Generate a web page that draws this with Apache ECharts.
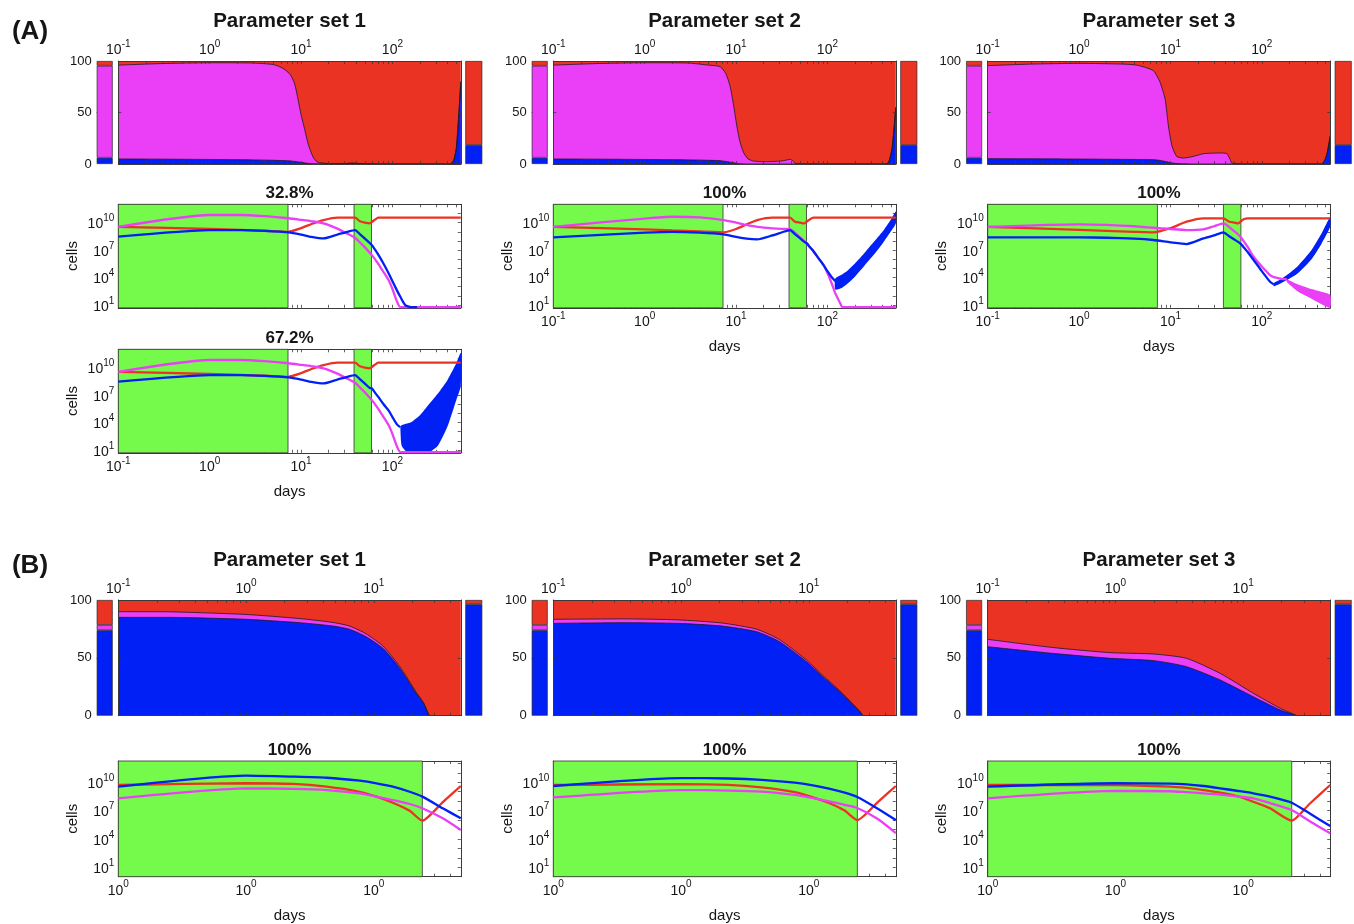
<!DOCTYPE html>
<html>
<head>
<meta charset="utf-8">
<script src="https://cdn.jsdelivr.net/npm/echarts@6/dist/echarts.min.js"></script>
<style>
  html, body { margin: 0; padding: 0; background: #fff; }
  #chart { width: 1354px; height: 924px; }
</style>
</head>
<body>
<div id="chart"></div>
<script>
// ---------------------------------------------------------------
// Tumour composition and cell counts under treatment, two regimes
// (A, B) and three parameter sets each.
// ---------------------------------------------------------------

// ---- texts ----
const panelLetters = ['(A)', '(B)'];
const setTitles = ['Parameter set 1', 'Parameter set 2', 'Parameter set 3'];
const aShares = [['32.8%', '67.2%'], ['100%'], ['100%']];
const bShares = ['100%', '100%', '100%'];

// ---- tick labels (exponents of 10) ----
const aDayTickExps = [-1, 0, 1, 2];
const bDayTickExps = [-1, 0, 1];
const bLineDayTickText = ['0', '0', '0'];
const cellTickExps = [1, 4, 7, 10];
const pctTicks = [0, 50, 100];

// ---- treatment windows (days) ----
const aTreatDays = [[0.1, 7.2], [38, 59]];
const bTreatDays = [[0.1, 24]];

// ---- time spans (days) ----
const aDayMax = 560;
const bDayMax = 48;

// ---- initial / final composition, % [blue, magenta, red] ----
const aStartMix = [6.1, 89.3, 4.6];
const aEndMix = [[18.4, 0, 81.6], [18.4, 0, 81.6], [18.4, 0, 81.6]];
const bStartMix = [74, 4.4, 21.6];
const bEndMix = [[96.5, 0, 3.5], [96.5, 0, 3.5], [96.5, 0, 3.5]];

// ---- Panel A: composition over time (%) ----
const aMixDays1 = [0.1, 0.3, 1, 3, 5, 6.3, 7.6, 8.5, 9.3, 10, 11, 12, 13.5, 15, 20, 30, 36, 42, 60, 100, 300, 430, 470, 500, 530, 560];
const aMixBlue1 = [4.9, 4.7, 4.4, 4.0, 3.6, 3.3, 3.0, 2.5, 2.0, 1.6, 1.0, 0.6, 0.3, 0.2, 0.1, 0.3, 0.8, 0.5, 0.1, 0, 0, 0, 4, 15, 45, 80];
const aMixMag1 = [91.1, 92.8, 93.9, 94.0, 92.9, 89.7, 84.0, 75.5, 60.0, 46.4, 32.0, 18.4, 6.7, 1.8, 0.3, 0, 0, 0, 0, 0, 0, 0, 0, 0, 0, 0];
const aMixRed1 = [4.0, 2.5, 1.7, 2.0, 3.5, 7.0, 13.0, 22.0, 38.0, 52.0, 67.0, 81.0, 93.0, 98.0, 99.6, 99.7, 99.2, 99.5, 99.9, 100, 100, 100, 96, 85, 55, 20];

const aMixDays2 = [0.1, 0.3, 1, 3, 5, 6.7, 7.7, 8.6, 9.4, 10.2, 11, 12.1, 13.5, 15.5, 20, 28, 33, 39, 42, 44.5, 60, 100, 300, 440, 470, 510, 560];
const aMixBlue2 = [4.9, 4.7, 4.4, 4.0, 3.6, 3.2, 2.5, 1.8, 1.2, 0.6, 0.3, 0.1, 0, 0, 0, 0, 0, 0, 0, 0, 0, 0, 0, 0, 2, 15, 55];
const aMixMag2 = [91.1, 92.8, 93.9, 94.0, 92.4, 91.3, 85.5, 73.9, 55.8, 36.3, 21.7, 10.9, 5.0, 2.9, 2.2, 2.6, 3.2, 4.5, 3.0, 0.6, 0, 0, 0, 0, 0, 0, 0];
const aMixRed2 = [4.0, 2.5, 1.7, 2.0, 4.0, 5.5, 12.0, 24.3, 43.0, 63.1, 78.0, 89.0, 95.0, 97.1, 97.8, 97.4, 96.8, 95.5, 97.0, 99.4, 100, 100, 100, 100, 98, 85, 45];

const aMixDays3 = [0.1, 0.3, 1, 3, 4.3, 6.5, 7.7, 8.75, 9.5, 10.4, 11.7, 13.9, 17.8, 23, 35, 41.5, 45, 47, 60, 100, 300, 450, 490, 520, 560];
const aMixBlue3 = [5.2, 5.0, 4.8, 4.5, 4.4, 4.2, 3.5, 2.5, 1.8, 1.0, 0.5, 0.2, 0, 0, 0, 0, 0, 0, 0, 0, 0, 0, 4, 11, 27];
const aMixMag3 = [90.3, 92.0, 92.9, 92.5, 91.6, 86.4, 75.8, 60.3, 35.1, 16.5, 6.9, 5.6, 7.4, 10.0, 10.7, 10.0, 4.2, 1.0, 0, 0, 0, 0, 0, 0, 0];
const aMixRed3 = [4.5, 3.0, 2.3, 3.0, 4.0, 9.4, 20.7, 37.2, 63.1, 82.5, 92.6, 94.2, 92.6, 90.0, 89.3, 90.0, 95.8, 99.0, 100, 100, 100, 100, 96, 89, 73];

// ---- Panel B: composition over time (%) ----
const bMixDays1 = [0.1, 0.24, 1, 2.6, 4.8, 6.5, 8.7, 11.8, 16, 21.5, 24.5, 25.9, 27.5, 35.5, 48];
const bMixBlue1 = [85, 85, 83.3, 80.4, 77.5, 74.6, 68.3, 58.2, 40.9, 19.3, 10.7, 4.9, 0, 0, 0];
const bMixMag1 = [4.9, 4.8, 4.2, 3.6, 3.1, 2.8, 2.5, 2.0, 1.5, 1.0, 0.7, 0.5, 0, 0, 0];
const bMixRed1 = [10.1, 10.2, 12.5, 16.0, 19.4, 22.6, 29.2, 39.8, 57.6, 79.7, 88.6, 94.6, 100, 100, 100];

const bMixDays2 = [0.1, 0.35, 0.95, 2.1, 3.9, 5.9, 9.6, 12.9, 17.5, 22.3, 25.1, 26.7, 35.5, 48];
const bMixBlue2 = [79.8, 80.4, 79.8, 77.5, 72.6, 64.0, 46.7, 33.7, 20.8, 9.3, 3.5, 0, 0, 0];
const bMixMag2 = [3.5, 3.3, 3.0, 2.6, 2.2, 1.8, 1.4, 1.1, 0.8, 0.5, 0.3, 0, 0, 0];
const bMixRed2 = [16.7, 16.3, 17.2, 19.9, 25.2, 34.2, 51.9, 65.2, 78.4, 90.2, 96.2, 100, 100, 100];

const bMixDays3 = [0.1, 0.32, 0.91, 2.0, 3.6, 6.6, 12, 19.5, 25.4, 26.3, 35.5, 48];
const bMixBlue3 = [59.6, 53.9, 49.6, 47.6, 42.4, 30.9, 16.4, 4.9, 0.6, 0, 0, 0];
const bMixMag3 = [6.4, 5.1, 4.9, 5.7, 7.2, 5.7, 3.0, 1.5, 0.2, 0, 0, 0];
const bMixRed3 = [34.0, 41.0, 45.5, 46.7, 50.4, 63.4, 80.6, 93.6, 99.2, 100, 100, 100];

// ---- Panel A: cell counts ----
const a1Days = [0.1, 1, 2.2, 4, 7.3, 10, 13, 17.6, 25, 32, 39, 44, 50, 56, 60, 64, 70, 80, 91, 100, 112, 122, 138, 160, 186, 250, 350, 450, 560];
const a1Red = [3.5e9, 2.0e9, 1.6e9, 1.3e9, 1.0e9, 2.5e9, 7.1e9, 1.9e10, 3.5e10, 3.5e10, 3.5e10, 1.4e10, 1.0e10, 8.3e9, 1.26e10, 2.0e10, 3.5e10,
  3.5e10, 3.5e10, 3.5e10, 3.5e10, 3.5e10, 3.5e10, 3.5e10, 3.5e10, 3.5e10, 3.5e10, 3.5e10, 3.5e10];
const a1Mag = [3.5e9, 6.8e10, 6.8e10, 5.0e10, 3.0e10, 2.0e10, 1.4e10, 8.3e9, 2.2e9, 6.3e8, 2.2e8, 7.1e7, 2.0e7, 5.6e6, 2.6e6, 1.1e6, 3.2e5, 4.0e4, 5.0e3, 560, 25,
  6, 6, 6, 6, 6, 6, 6, 6];
const a1Blue = [2.9e8, 1.55e9, 1.55e9, 1.26e9, 8.7e8, 5.0e8, 2.8e8, 1.9e8, 5.0e8, 1.0e9, 1.55e9, 5.6e8, 1.78e8, 6.3e7, 3.2e7, 1.26e7, 3.2e6, 3.2e5, 2.8e4, 4.0e3, 400, 80, 10, 6, 6,
  null, null, null, null];
// second outcome group of parameter set 1 (regrowing blue cells)
const a1bBlue = [2.9e8, 1.55e9, 1.55e9, 1.26e9, 8.7e8, 5.0e8, 2.8e8, 1.9e8, 5.0e8, 1.0e9, 1.55e9, 5.6e8, 1.78e8, 6.3e7, 5.0e7, 2.0e7, 6.3e6, 1.0e6, 2.0e5, 4.0e4, 6.3e3, 3.2e3,
  null, null, null, null, null, null, null];
const a1bBandDays = [122, 126, 145, 158, 200, 251, 316, 398, 501, 560];
const a1bBandLo = [3.2e3, 32, 5.6, 5.2, 5.2, 5.6, 32, 3.2e3, 3.2e6, 1.0e8];
const a1bBandHi = [3.2e3, 5.0e3, 7.9e3, 1.0e4, 6.3e4, 1.0e6, 1.6e7, 4.0e8, 3.2e10, 4.0e11];

const a2Days = [0.1, 1, 2, 4, 7.3, 10, 13, 17, 25, 32, 39, 44, 50, 56, 60, 64, 70, 80, 91, 100, 112, 122, 138, 145, 160, 250, 350, 450, 560];
const a2Red = [3.5e9, 1.8e9, 1.4e9, 1.1e9, 8.7e8, 2.0e9, 6.3e9, 1.9e10, 3.5e10, 3.5e10, 3.5e10, 1.26e10, 1.0e10, 8.3e9, 1.4e10, 2.2e10, 3.5e10,
  3.5e10, 3.5e10, 3.5e10, 3.5e10, 3.5e10, 3.5e10, 3.5e10, 3.5e10, 3.5e10, 3.5e10, 3.5e10, 3.5e10];
const a2Mag = [3.5e9, 2.8e10, 4.4e10, 3.8e10, 1.9e10, 1.0e10, 5.6e9, 3.5e9, 2.4e9, 2.1e9, 2.0e9, 7.9e8, 2.5e8, 8.9e7, 5.0e7, 2.2e7, 7.9e6, 1.26e6, 2.2e5, 3.2e4, 2.0e3, 190, 16,
  6, 6, 6, 6, 6, 6];
const a2Blue = [2.45e8, 7.9e8, 1.0e9, 7.9e8, 5.2e8, 2.8e8, 1.78e8, 1.48e8, 4.0e8, 8.9e8, 1.55e9, 5.6e8, 2.0e8, 7.9e7, 5.0e7, 2.2e7, 7.9e6, 1.26e6, 2.2e5, 5.0e4, 1.0e4, 4.0e3,
  null, null, null, null, null, null, null];
const a2BandDays = [122, 145, 160, 200, 250, 316, 400, 500, 560];
const a2BandLo = [500, 790, 1.6e3, 1.26e4, 1.6e5, 2.5e6, 5.0e7, 1.26e9, 7.9e9];
const a2BandHi = [7.9e3, 2.2e4, 4.2e4, 3.5e5, 4.0e6, 6.3e7, 1.0e9, 2.5e10, 1.6e11];

const a3Days = [0.1, 1, 2, 4, 6.5, 10, 15, 23, 30, 38, 44, 50, 55, 60, 64, 70, 81, 100, 123, 135, 160, 188, 250, 350, 450, 560];
const a3Red = [3.5e9, 1.6e9, 1.26e9, 1.0e9, 8.7e8, 2.5e9, 1.26e10, 2.95e10, 2.95e10, 2.95e10, 1.26e10, 1.0e10, 8.3e9, 1.6e10, 2.5e10, 2.95e10,
  2.95e10, 2.95e10, 2.95e10, 2.95e10, 2.95e10, 2.95e10, 2.95e10, 2.95e10, 2.95e10, 2.95e10];
const a3Mag = [3.5e9, 6.5e9, 5.6e9, 4.0e9, 2.75e9, 2.0e9, 1.55e9, 1.86e9, 4.0e9, 8.3e9, 3.2e9, 1.12e9, 5.0e8, 2.0e8, 7.9e7, 2.2e7, 2.0e6, 1.6e5, 1.86e4, 1.12e4, 7.9e3, 6.3e3,
  null, null, null, null];
const a3Blue = [2.45e8, 2.45e8, 2.24e8, 1.78e8, 1.26e8, 7.1e7, 4.6e7, 1.9e8, 4.0e8, 8.7e8, 3.2e8, 1.41e8, 7.9e7, 4.0e7, 1.78e7, 6.3e6, 8.9e5, 5.0e4, 3.5e3, 1.8e3,
  null, null, null, null, null, null];
const a3BlueBandDays = [135, 160, 188, 250, 350, 450, 560];
const a3BlueBandLo = [1.12e3, 2.24e3, 5.4e3, 3.2e4, 1.0e6, 5.0e7, 3.5e9];
const a3BlueBandHi = [2.5e3, 6.3e3, 1.86e4, 2.0e5, 1.0e7, 6.3e8, 4.0e10];
const a3MagBandDays = [188, 250, 350, 450, 560];
const a3MagBandLo = [3.2e3, 280, 50, 12.6, 5.2];
const a3MagBandHi = [6.3e3, 1.78e3, 560, 280, 126];

// ---- Panel B: cell counts ----
const b1Days = [0.1, 1, 2.34, 4.27, 7.76, 10.5, 14.1, 19.1, 24, 34.7, 48];
const b1Red = [5.1e9, 7.8e9, 6.6e9, 3.4e9, 9.8e8, 3.0e8, 6.8e7, 9.5e6, 8.5e5, 7.9e7, 4.0e9];
const b1Mag = [2.0e8, 2.3e9, 2.0e9, 1.5e9, 6.8e8, 3.0e8, 1.3e8, 5.0e7, 1.74e7, 1.5e6, 8.7e4];
const b1Blue = [3.4e9, 5.0e10, 3.9e10, 3.0e10, 1.45e10, 7.8e9, 3.4e9, 9.8e8, 3.0e8, 1.74e7, 1.5e6];

const b2Days = [0.1, 1, 2.34, 4.27, 7.76, 10.5, 14.1, 19.1, 24, 34.7, 48];
const b2Red = [5.1e9, 6.3e9, 5.2e9, 2.8e9, 8.9e8, 2.8e8, 7.1e7, 1.0e7, 1.0e6, 7.9e7, 4.0e9];
const b2Mag = [2.5e8, 1.5e9, 1.32e9, 1.0e9, 4.5e8, 2.24e8, 1.0e8, 4.0e7, 1.86e7, 1.26e6, 4.2e4];
const b2Blue = [4.0e9, 2.8e10, 2.5e10, 1.78e10, 8.9e9, 5.0e9, 2.24e9, 7.9e8, 2.75e8, 1.58e7, 1.0e6];

const b3Days = [0.1, 1, 2.7, 3.6, 4.9, 6.6, 8.9, 12, 16.2, 24, 33, 48];
const b3Red = [5.1e9, 5.1e9, 3.4e9, 2.5e9, 1.5e9, 7.9e8, 3.5e8, 8.7e7, 1.74e7, 8.5e5, 5.0e7, 5.1e9];
const b3Mag = [2.0e8, 1.2e9, 1.12e9, 8.9e8, 6.8e8, 5.0e8, 3.2e8, 2.0e8, 6.3e7, 1.15e7, 7.9e5, 3.9e4];
const b3Blue = [3.4e9, 7.8e9, 7.1e9, 6.0e9, 4.0e9, 2.3e9, 1.26e9, 6.8e8, 3.0e8, 6.8e7, 5.1e6, 2.3e5];

// ---------------------------------------------------------------
// layout and styling
// ---------------------------------------------------------------
const FONT = '"Liberation Sans", Arial, Helvetica, sans-serif';
const INK = '#161616';
const AXIS = '#3a3a3a';
const COL = { red: '#ea3323', mag: '#ea3ff7', blue: '#0020f5', green: '#75fa4c' };

const colLeft = [118.3, 553.3, 987.7];
const MAIN_W = 342.5;
const LAYOUT = {
  aMix: { top: 61, height: 103 },
  aCells: [{ top: 204.3, height: 103.5 }, { top: 349.3, height: 103.5 }],
  bMix: { top: 600, height: 115.7 },
  bCells: { top: 761, height: 115.7 }
};
const A_CELL_RANGE = [0.7, 12];
const B_CELL_RANGE = [0, 12.25];

const lg = Math.log10;

const option = {
  animation: false,
  backgroundColor: '#ffffff',
  grid: [], xAxis: [], yAxis: [], series: [], graphic: []
};

const richSup = {
  b: { fontFamily: FONT, fontSize: 14, color: INK, lineHeight: 18, verticalAlign: 'bottom' },
  s: { fontFamily: FONT, fontSize: 10, color: INK, lineHeight: 11, verticalAlign: 'top' }
};
const supLabel = exp => '{b|10}{s|' + exp + '}';

function addGrid(left, top, width, height) {
  option.grid.push({ left, top, width, height, containLabel: false, outerBoundsMode: 'none', show: false });
  return option.grid.length - 1;
}
function addX(cfg) { option.xAxis.push(cfg); return option.xAxis.length - 1; }
function addY(cfg) { option.yAxis.push(cfg); return option.yAxis.length - 1; }

// positions (in decades) of the 1..9 x 10^n ticks of a logarithmic axis
function logTickValues(lo, hi) {
  const out = [];
  for (let n = Math.floor(lo); n <= Math.ceil(hi); n++) {
    for (let k = 1; k <= 9; k++) {
      const v = n + lg(k);
      if (v >= lo - 1e-9 && v <= hi + 1e-9) out.push(v);
    }
  }
  return out;
}

const axisLine = { show: true, onZero: false, lineStyle: { color: AXIS, width: 1 } };
const ticks = vals => ({ show: true, inside: true, length: 3, customValues: vals, lineStyle: { color: AXIS, width: 0.8 } });
const noSplit = { show: false };

function text(x, y, str, size, bold) {
  option.graphic.push({
    type: 'text', x, y, silent: true,
    style: { text: str, fill: INK, font: (bold ? 'bold ' : '') + size + 'px ' + FONT, align: 'center', verticalAlign: 'middle' }
  });
}

// small stacked bar: initial or final composition
function mixBar(left, top, width, height, mix, withLabels) {
  const g = addGrid(left, top, width, height);
  const xi = addX({ gridIndex: g, type: 'category', data: ['mix'], show: false });
  const yi = addY({
    gridIndex: g, type: 'value', min: 0, max: 100, position: 'left',
    axisLine: { show: false },
    axisTick: withLabels ? { show: true, inside: true, length: 2, customValues: [50], lineStyle: { color: AXIS } } : { show: false },
    axisLabel: withLabels ? { show: true, customValues: pctTicks, fontFamily: FONT, fontSize: 13, color: INK, margin: 5 } : { show: false },
    splitLine: noSplit
  });
  [COL.blue, COL.mag, COL.red].forEach((color, k) => {
    option.series.push({
      type: 'bar', xAxisIndex: xi, yAxisIndex: yi, stack: 'bar' + g, data: [mix[k]],
      barWidth: '100%', silent: true,
      itemStyle: { color, borderColor: '#2a2a2a', borderWidth: mix[k] > 0 ? 0.7 : 0 }
    });
  });
}

// percentage composition over log time: each layer is filled from 0 up to
// the running total, drawn top layer first so that the lower layers cover it
function mixPlot(left, top, height, dayMax, labelExps, days, blue, mag, red) {
  const g = addGrid(left, top, MAIN_W, height);
  const xr = [-1, lg(dayMax)];
  const xt = logTickValues(xr[0], xr[1]);
  const xTop = addX({
    gridIndex: g, type: 'value', position: 'top', min: xr[0], max: xr[1], z: 5,
    axisLine, axisTick: ticks(xt), splitLine: noSplit,
    axisLabel: { show: true, customValues: labelExps, formatter: v => supLabel(Math.round(v)), rich: richSup, margin: 4 }
  });
  addX({ gridIndex: g, type: 'value', position: 'bottom', min: xr[0], max: xr[1], z: 5,
    axisLine, axisTick: ticks(xt), axisLabel: { show: false }, splitLine: noSplit });
  const yL = addY({ gridIndex: g, type: 'value', position: 'left', min: 0, max: 100, z: 5,
    axisLine, axisTick: ticks([50]), axisLabel: { show: false }, splitLine: noSplit });
  addY({ gridIndex: g, type: 'value', position: 'right', min: 0, max: 100, z: 5,
    axisLine, axisTick: ticks([50]), axisLabel: { show: false }, splitLine: noSplit });

  const upToBlue = days.map((d, i) => [lg(d), blue[i]]);
  const upToMag = days.map((d, i) => [lg(d), blue[i] + mag[i]]);
  const upToRed = days.map((d, i) => [lg(d), blue[i] + mag[i] + red[i]]);
  [[upToRed, COL.red, false], [upToMag, COL.mag, true], [upToBlue, COL.blue, true]].forEach(([data, color, edge]) => {
    option.series.push({
      type: 'line', xAxisIndex: xTop, yAxisIndex: yL, data,
      showSymbol: false, symbol: 'none', smooth: 0.2, silent: true,
      lineStyle: { color: edge ? '#1c1c1c' : 'rgba(0,0,0,0)', width: 0.8 },
      areaStyle: { color, opacity: 1, origin: 'start' }
    });
  });
}

// filled envelope of many stochastic trajectories
function bandSeries(xi, yi, days, lo, hi, color) {
  const pts = days.map((d, i) => [lg(d), lg(lo[i]), lg(hi[i])]);
  return {
    type: 'custom', xAxisIndex: xi, yAxisIndex: yi, data: pts, z: 2, silent: true,
    encode: { x: 0, y: [1, 2] },
    renderItem(params, api) {
      if (params.dataIndex !== 0) return null;
      const upper = pts.map(p => api.coord([p[0], p[2]]));
      const lower = pts.map(p => api.coord([p[0], p[1]])).reverse();
      return { type: 'polygon', shape: { points: upper.concat(lower), smooth: 0.2 }, style: { fill: color } };
    }
  };
}

// cell counts over log time, log counts
function cellPlot(p) {
  const g = addGrid(p.left, p.top, MAIN_W, p.height);
  const xr = [-1, lg(p.dayMax)];
  const xt = logTickValues(xr[0], xr[1]);
  const yt = [];
  for (let e = Math.ceil(p.yRange[0]); e <= Math.floor(p.yRange[1]); e++) yt.push(e);
  const nameStyle = { fontFamily: FONT, fontSize: 15, color: INK };
  const xb = addX({
    gridIndex: g, type: 'value', position: 'bottom', min: xr[0], max: xr[1],
    axisLine, axisTick: ticks(xt), splitLine: noSplit,
    axisLabel: p.labels
      ? { show: true, customValues: p.labels.exps, formatter: v => supLabel(p.labels.text(v)), rich: richSup, margin: 3 }
      : { show: false },
    name: p.labels ? 'days' : '', nameLocation: 'middle', nameGap: 32, nameTextStyle: nameStyle
  });
  addX({ gridIndex: g, type: 'value', position: 'top', min: xr[0], max: xr[1],
    axisLine, axisTick: ticks(xt), axisLabel: { show: false }, splitLine: noSplit });
  const yl = addY({
    gridIndex: g, type: 'value', position: 'left', min: p.yRange[0], max: p.yRange[1],
    axisLine, axisTick: ticks(yt), splitLine: noSplit,
    axisLabel: { show: true, customValues: cellTickExps, formatter: v => supLabel(Math.round(v)), rich: richSup, margin: 4 },
    name: 'cells', nameLocation: 'middle', nameGap: 38, nameRotate: 90, nameTextStyle: nameStyle
  });
  addY({ gridIndex: g, type: 'value', position: 'right', min: p.yRange[0], max: p.yRange[1],
    axisLine, axisTick: ticks(yt), axisLabel: { show: false }, splitLine: noSplit });

  p.lines.forEach(([days, vals, color], k) => {
    const data = [];
    days.forEach((d, i) => { if (vals[i] != null) data.push([lg(d), lg(vals[i])]); });
    const s = {
      type: 'line', xAxisIndex: xb, yAxisIndex: yl, data,
      showSymbol: false, symbol: 'none', smooth: 0.2, silent: true, clip: true, z: 2,
      lineStyle: { color, width: 2.3 }
    };
    if (k === 0) {
      s.markArea = {
        silent: true, z: 1,
        itemStyle: { color: COL.green, opacity: 1, borderColor: '#333', borderWidth: 0.8 },
        label: { show: false },
        data: p.treat.map(([a, b]) => [{ xAxis: lg(a) }, { xAxis: lg(b) }])
      };
    }
    option.series.push(s);
    (p.bandsAfter[k] || []).forEach(b => option.series.push(bandSeries(xb, yl, b[0], b[1], b[2], color)));
  });
}

// ---------------------------------------------------------------
// Panel A
// ---------------------------------------------------------------
const aMix = [
  [aMixDays1, aMixBlue1, aMixMag1, aMixRed1],
  [aMixDays2, aMixBlue2, aMixMag2, aMixRed2],
  [aMixDays3, aMixBlue3, aMixMag3, aMixRed3]
];
const bMix = [
  [bMixDays1, bMixBlue1, bMixMag1, bMixRed1],
  [bMixDays2, bMixBlue2, bMixMag2, bMixRed2],
  [bMixDays3, bMixBlue3, bMixMag3, bMixRed3]
];

for (let c = 0; c < 3; c++) {
  const L = colLeft[c];
  const m = LAYOUT.aMix;
  mixBar(L - 21.6, m.top, 16, m.height, aStartMix, true);
  mixPlot(L, m.top, m.height, aDayMax, aDayTickExps, ...aMix[c]);
  mixBar(L + MAIN_W + 4.5, m.top, 17, m.height, aEndMix[c], false);
  text(L + MAIN_W / 2, 21, setTitles[c], 20.5, true);
}

const aLabels = { exps: aDayTickExps, text: v => Math.round(v) };
const bLabels = { exps: bDayTickExps, text: v => bLineDayTickText[bDayTickExps.indexOf(Math.round(v))] };

// parameter set 1, first outcome group
cellPlot({
  left: colLeft[0], top: LAYOUT.aCells[0].top, height: LAYOUT.aCells[0].height,
  yRange: A_CELL_RANGE, dayMax: aDayMax, labels: null, treat: aTreatDays,
  lines: [[a1Days, a1Red, COL.red], [a1Days, a1Mag, COL.mag], [a1Days, a1Blue, COL.blue]],
  bandsAfter: {}
});
// parameter set 1, second outcome group
cellPlot({
  left: colLeft[0], top: LAYOUT.aCells[1].top, height: LAYOUT.aCells[1].height,
  yRange: A_CELL_RANGE, dayMax: aDayMax, labels: aLabels, treat: aTreatDays,
  lines: [[a1Days, a1Red, COL.red], [a1Days, a1Mag, COL.mag], [a1Days, a1bBlue, COL.blue]],
  bandsAfter: { 2: [[a1bBandDays, a1bBandLo, a1bBandHi]] }
});
// parameter set 2
cellPlot({
  left: colLeft[1], top: LAYOUT.aCells[0].top, height: LAYOUT.aCells[0].height,
  yRange: A_CELL_RANGE, dayMax: aDayMax, labels: aLabels, treat: aTreatDays,
  lines: [[a2Days, a2Red, COL.red], [a2Days, a2Mag, COL.mag], [a2Days, a2Blue, COL.blue]],
  bandsAfter: { 2: [[a2BandDays, a2BandLo, a2BandHi]] }
});
// parameter set 3
cellPlot({
  left: colLeft[2], top: LAYOUT.aCells[0].top, height: LAYOUT.aCells[0].height,
  yRange: A_CELL_RANGE, dayMax: aDayMax, labels: aLabels, treat: aTreatDays,
  lines: [[a3Days, a3Red, COL.red], [a3Days, a3Mag, COL.mag], [a3Days, a3Blue, COL.blue]],
  bandsAfter: { 1: [[a3MagBandDays, a3MagBandLo, a3MagBandHi]], 2: [[a3BlueBandDays, a3BlueBandLo, a3BlueBandHi]] }
});

text(colLeft[0] + MAIN_W / 2, 193.5, aShares[0][0], 17, true);
text(colLeft[0] + MAIN_W / 2, 338.5, aShares[0][1], 17, true);
text(colLeft[1] + MAIN_W / 2, 193.5, aShares[1][0], 17, true);
text(colLeft[2] + MAIN_W / 2, 193.5, aShares[2][0], 17, true);

// ---------------------------------------------------------------
// Panel B
// ---------------------------------------------------------------
const bCells = [
  [b1Days, b1Red, b1Mag, b1Blue],
  [b2Days, b2Red, b2Mag, b2Blue],
  [b3Days, b3Red, b3Mag, b3Blue]
];
for (let c = 0; c < 3; c++) {
  const L = colLeft[c];
  const m = LAYOUT.bMix;
  mixBar(L - 21.6, m.top, 16, m.height, bStartMix, true);
  mixPlot(L, m.top, m.height, bDayMax, bDayTickExps, ...bMix[c]);
  mixBar(L + MAIN_W + 4.5, m.top, 17, m.height, bEndMix[c], false);
  text(L + MAIN_W / 2, 560.5, setTitles[c], 20.5, true);

  const [d, r, mg, bl] = bCells[c];
  cellPlot({
    left: L, top: LAYOUT.bCells.top, height: LAYOUT.bCells.height,
    yRange: B_CELL_RANGE, dayMax: bDayMax, labels: bLabels, treat: bTreatDays,
    lines: [[d, r, COL.red], [d, mg, COL.mag], [d, bl, COL.blue]],
    bandsAfter: {}
  });
  text(L + MAIN_W / 2, 750, bShares[c], 17, true);
}

text(30, 32, panelLetters[0], 26, true);
text(30, 566, panelLetters[1], 26, true);

const chart = echarts.init(document.getElementById('chart'), null, { renderer: 'canvas' });
chart.setOption(option);
</script>
</body>
</html>
